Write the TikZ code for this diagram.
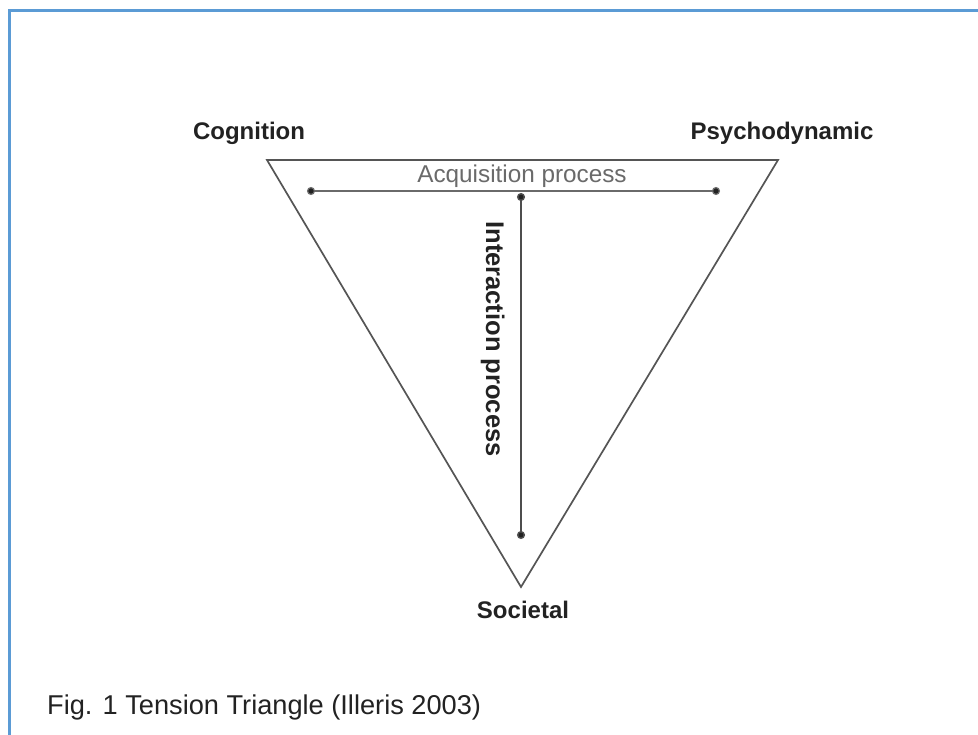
\documentclass[tikz,border=0pt]{standalone}
\usepackage{fontspec}
\setmainfont{Liberation Sans}
\usetikzlibrary{arrows.meta}
\definecolor{frameblue}{HTML}{5B9BD5}
\definecolor{ink}{HTML}{222222}
\definecolor{edge}{HTML}{555555}
\definecolor{soft}{HTML}{6A6A6A}
\tikzset{
  corner/.style={font=\fontsize{24}{28}\selectfont\bfseries, text=ink, anchor=base, inner sep=0pt},
  tri/.style={draw=edge, line width=1.7pt, line join=miter},
  proc/.style={draw=soft, line width=1.2pt, {Circle[length=8pt, fill=ink]}-{Circle[length=8pt, fill=ink]}},
  vproc/.style={draw=ink!80, line width=1.4pt, {Circle[length=8pt, fill=ink]}-{Circle[length=8pt, fill=ink]}},
}
\begin{document}
\begin{tikzpicture}[x=1pt,y=-1pt]
\useasboundingbox (0,0) rectangle (978,735);
\fill[white] (0,0) rectangle (978,735);
% frame
\draw[frameblue, line width=3pt] (9,740) -- (9,11) -- (985,11);
% vertices
\coordinate (cog) at (267,160);
\coordinate (psy) at (778,160);
\coordinate (soc) at (521,587);
\draw[tri] (cog) -- (psy) -- (soc) -- cycle;
% labels
\node[corner] (lcog) at (249,140) {Cognition};
\node[corner] (lpsy) at (782,140) {Psychodynamic};
\node[corner] (lsoc) at (523,618) {Societal};
\node[font=\fontsize{24.3}{28}\selectfont, text=soft, anchor=base, inner sep=0pt] (lacq) at (522,183) {Acquisition process};
\node[corner, font=\fontsize{25.5}{29}\selectfont\bfseries, rotate=-90] (lint) at (486,339) {Interaction process};
% arrows
\coordinate (al) at (307,191);
\coordinate (ar) at (720,191);
\draw[proc] (al) -- (ar);
\coordinate (vt) at (521,193);
\coordinate (vb) at (521,539);
\draw[vproc] (vt) -- (vb);
% caption
\node[font=\fontsize{27.2}{31}\selectfont, text=ink, anchor=base west, inner sep=0pt] (cap) at (47,714) {Fig. 1 Tension Triangle (Illeris 2003)};
\end{tikzpicture}
\end{document}
